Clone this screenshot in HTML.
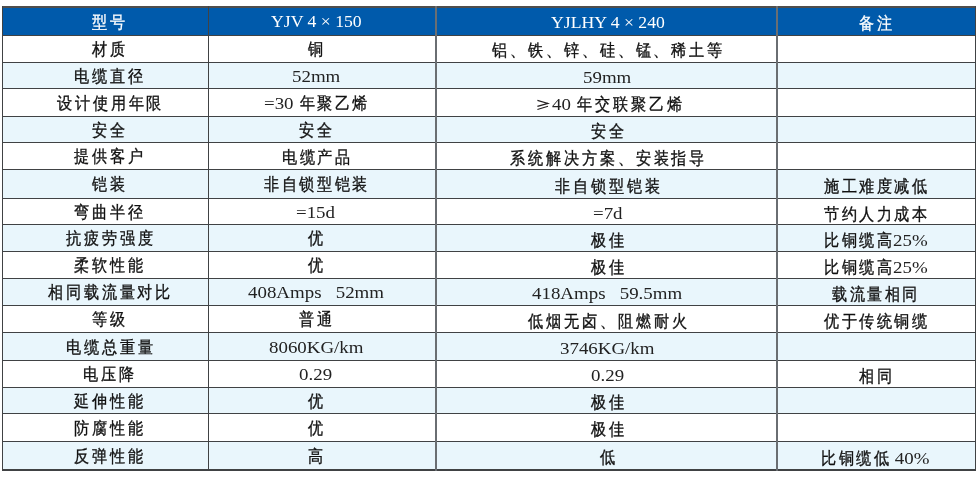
<!DOCTYPE html>
<html><head><meta charset="utf-8"><style>
html,body{margin:0;padding:0;}
body{width:976px;height:479px;overflow:hidden;background:#fff;position:relative;font-family:"Liberation Sans",sans-serif;}
.bx{position:absolute;}
.t{position:absolute;white-space:nowrap;will-change:transform;color:#111111;font-size:16.5px;}
.h{color:#fff;}
.h .l{color:#fff;}
.cw{display:inline-block;width:17.6px;text-align:center;}
.c{display:inline-block;font-family:"Liberation Sans",sans-serif;font-size:16.5px;transform:scaleX(0.89);}
.c{-webkit-text-stroke:0.34px #111111;}
.h .c{-webkit-text-stroke:0.3px #fff;}
.lw{display:inline-block;white-space:pre;}
.l{display:inline-block;color:#222222;font-family:"Liberation Serif",serif;font-size:17.5px;transform:scaleX(1.08);transform-origin:0 0;white-space:pre;position:relative;top:-0.3px;}
</style></head><body>
<div class="bx" style="left:2px;top:8px;width:973px;height:27px;background:#005aab"></div>
<div class="bx" style="left:2px;top:62px;width:973px;height:26px;background:#e9f6fc"></div>
<div class="bx" style="left:2px;top:116px;width:973px;height:26px;background:#e9f6fc"></div>
<div class="bx" style="left:2px;top:169px;width:973px;height:29px;background:#e9f6fc"></div>
<div class="bx" style="left:2px;top:224px;width:973px;height:27px;background:#e9f6fc"></div>
<div class="bx" style="left:2px;top:278px;width:973px;height:27px;background:#e9f6fc"></div>
<div class="bx" style="left:2px;top:332px;width:973px;height:28px;background:#e9f6fc"></div>
<div class="bx" style="left:2px;top:387px;width:973px;height:26px;background:#e9f6fc"></div>
<div class="bx" style="left:2px;top:441px;width:973px;height:28px;background:#e9f6fc"></div>
<div class="bx" style="left:2px;top:6px;width:974px;height:2px;background:#504e4c"></div>
<div class="bx" style="left:2px;top:469px;width:974px;height:2px;background:#404244"></div>
<div class="bx" style="left:2px;top:35px;width:974px;height:1px;background:#404244"></div>
<div class="bx" style="left:2px;top:62px;width:974px;height:1px;background:#404244"></div>
<div class="bx" style="left:2px;top:88px;width:974px;height:1px;background:#404244"></div>
<div class="bx" style="left:2px;top:116px;width:974px;height:1px;background:#404244"></div>
<div class="bx" style="left:2px;top:142px;width:974px;height:1px;background:#404244"></div>
<div class="bx" style="left:2px;top:169px;width:974px;height:1px;background:#404244"></div>
<div class="bx" style="left:2px;top:198px;width:974px;height:1px;background:#404244"></div>
<div class="bx" style="left:2px;top:224px;width:974px;height:1px;background:#404244"></div>
<div class="bx" style="left:2px;top:251px;width:974px;height:1px;background:#404244"></div>
<div class="bx" style="left:2px;top:278px;width:974px;height:1px;background:#404244"></div>
<div class="bx" style="left:2px;top:305px;width:974px;height:1px;background:#404244"></div>
<div class="bx" style="left:2px;top:332px;width:974px;height:1px;background:#404244"></div>
<div class="bx" style="left:2px;top:360px;width:974px;height:1px;background:#404244"></div>
<div class="bx" style="left:2px;top:387px;width:974px;height:1px;background:#404244"></div>
<div class="bx" style="left:2px;top:413px;width:974px;height:1px;background:#404244"></div>
<div class="bx" style="left:2px;top:441px;width:974px;height:1px;background:#404244"></div>
<div class="bx" style="left:2px;top:6px;width:1px;height:465px;background:#404244"></div>
<div class="bx" style="left:975px;top:6px;width:1px;height:465px;background:#404244"></div>
<div class="bx" style="left:208px;top:6px;width:1px;height:465px;background:#404244"></div>
<div class="bx" style="left:435px;top:6px;width:2px;height:465px;background:#6a6e72"></div>
<div class="bx" style="left:776px;top:6px;width:2px;height:465px;background:#6a6e72"></div>
<svg class="bx" style="left:536px;top:99px" width="14" height="13" viewBox="0 0 14 13"><path d="M1.4 1.4 L12 4.4 L1.4 7.4 M12 7.2 L1.4 10.6" fill="none" stroke="#231f20" stroke-width="1.1"/></svg>
<div class="t h" style="left:91.20px;top:8.6px;height:27px;line-height:27px"><span class="cw" style="width:17.8px"><span class="c">型</span></span><span class="cw" style="width:17.8px"><span class="c">号</span></span></div>
<div class="t h" style="left:270.67px;top:8.2px;height:27px;line-height:27px"><span class="lw" style="width:90.66px"><span class="l" style="transform:scaleX(1.01)">YJV 4 × 150</span></span></div>
<div class="t h" style="left:550.55px;top:9.0px;height:27px;line-height:27px"><span class="lw" style="width:113.89px"><span class="l" style="transform:scaleX(1.01)">YJLHY 4 × 240</span></span></div>
<div class="t h" style="left:857.50px;top:10px;height:27px;line-height:27px"><span class="cw" style="width:17.5px"><span class="c">备</span></span><span class="cw" style="width:17.5px"><span class="c">注</span></span></div>
<div class="t" style="left:91.20px;top:36px;height:27px;line-height:27px"><span class="cw" style="width:17.8px"><span class="c">材</span></span><span class="cw" style="width:17.8px"><span class="c">质</span></span></div>
<div class="t" style="left:307.20px;top:35.7px;height:27px;line-height:27px"><span class="cw" style="width:17.6px"><span class="c">铜</span></span></div>
<div class="t" style="left:491.15px;top:36.8px;height:27px;line-height:27px"><span class="cw" style="width:17.9px"><span class="c">铝</span></span><span class="cw" style="width:17.9px"><span class="c">、</span></span><span class="cw" style="width:17.9px"><span class="c">铁</span></span><span class="cw" style="width:17.9px"><span class="c">、</span></span><span class="cw" style="width:17.9px"><span class="c">锌</span></span><span class="cw" style="width:17.9px"><span class="c">、</span></span><span class="cw" style="width:17.9px"><span class="c">硅</span></span><span class="cw" style="width:17.9px"><span class="c">、</span></span><span class="cw" style="width:17.9px"><span class="c">锰</span></span><span class="cw" style="width:17.9px"><span class="c">、</span></span><span class="cw" style="width:17.9px"><span class="c">稀</span></span><span class="cw" style="width:17.9px"><span class="c">土</span></span><span class="cw" style="width:17.9px"><span class="c">等</span></span></div>
<div class="t" style="left:73.40px;top:63px;height:26px;line-height:26px"><span class="cw" style="width:17.8px"><span class="c">电</span></span><span class="cw" style="width:17.8px"><span class="c">缆</span></span><span class="cw" style="width:17.8px"><span class="c">直</span></span><span class="cw" style="width:17.8px"><span class="c">径</span></span></div>
<div class="t" style="left:291.84px;top:62.7px;height:26px;line-height:26px"><span class="lw" style="width:48.31px"><span class="l" style="transform:scaleX(1.08)">52mm</span></span></div>
<div class="t" style="left:583.34px;top:63.8px;height:26px;line-height:26px"><span class="lw" style="width:48.31px"><span class="l" style="transform:scaleX(1.08)">59mm</span></span></div>
<div class="t" style="left:55.60px;top:89px;height:28px;line-height:28px"><span class="cw" style="width:17.8px"><span class="c">设</span></span><span class="cw" style="width:17.8px"><span class="c">计</span></span><span class="cw" style="width:17.8px"><span class="c">使</span></span><span class="cw" style="width:17.8px"><span class="c">用</span></span><span class="cw" style="width:17.8px"><span class="c">年</span></span><span class="cw" style="width:17.8px"><span class="c">限</span></span></div>
<div class="t" style="left:263.65px;top:88.7px;height:28px;line-height:28px"><span class="lw" style="width:34.29px"><span class="l" style="transform:scaleX(1.08)">=30 </span></span><span class="cw" style="width:17.6px"><span class="c">年</span></span><span class="cw" style="width:17.6px"><span class="c">聚</span></span><span class="cw" style="width:17.6px"><span class="c">乙</span></span><span class="cw" style="width:17.6px"><span class="c">烯</span></span></div>
<div class="t" style="left:552.00px;top:89.8px;height:28px;line-height:28px"><span class="lw" style="width:23.62px"><span class="l" style="transform:scaleX(1.08)">40 </span></span><span class="cw" style="width:17.9px"><span class="c">年</span></span><span class="cw" style="width:17.9px"><span class="c">交</span></span><span class="cw" style="width:17.9px"><span class="c">联</span></span><span class="cw" style="width:17.9px"><span class="c">聚</span></span><span class="cw" style="width:17.9px"><span class="c">乙</span></span><span class="cw" style="width:17.9px"><span class="c">烯</span></span></div>
<div class="t" style="left:91.20px;top:117px;height:26px;line-height:26px"><span class="cw" style="width:17.8px"><span class="c">安</span></span><span class="cw" style="width:17.8px"><span class="c">全</span></span></div>
<div class="t" style="left:298.40px;top:116.7px;height:26px;line-height:26px"><span class="cw" style="width:17.6px"><span class="c">安</span></span><span class="cw" style="width:17.6px"><span class="c">全</span></span></div>
<div class="t" style="left:589.60px;top:117.8px;height:26px;line-height:26px"><span class="cw" style="width:17.9px"><span class="c">安</span></span><span class="cw" style="width:17.9px"><span class="c">全</span></span></div>
<div class="t" style="left:73.40px;top:143px;height:27px;line-height:27px"><span class="cw" style="width:17.8px"><span class="c">提</span></span><span class="cw" style="width:17.8px"><span class="c">供</span></span><span class="cw" style="width:17.8px"><span class="c">客</span></span><span class="cw" style="width:17.8px"><span class="c">户</span></span></div>
<div class="t" style="left:280.80px;top:143.7px;height:27px;line-height:27px"><span class="cw" style="width:17.6px"><span class="c">电</span></span><span class="cw" style="width:17.6px"><span class="c">缆</span></span><span class="cw" style="width:17.6px"><span class="c">产</span></span><span class="cw" style="width:17.6px"><span class="c">品</span></span></div>
<div class="t" style="left:509.05px;top:145.3px;height:27px;line-height:27px"><span class="cw" style="width:17.9px"><span class="c">系</span></span><span class="cw" style="width:17.9px"><span class="c">统</span></span><span class="cw" style="width:17.9px"><span class="c">解</span></span><span class="cw" style="width:17.9px"><span class="c">决</span></span><span class="cw" style="width:17.9px"><span class="c">方</span></span><span class="cw" style="width:17.9px"><span class="c">案</span></span><span class="cw" style="width:17.9px"><span class="c">、</span></span><span class="cw" style="width:17.9px"><span class="c">安</span></span><span class="cw" style="width:17.9px"><span class="c">装</span></span><span class="cw" style="width:17.9px"><span class="c">指</span></span><span class="cw" style="width:17.9px"><span class="c">导</span></span></div>
<div class="t" style="left:91.20px;top:170px;height:29px;line-height:29px"><span class="cw" style="width:17.8px"><span class="c">铠</span></span><span class="cw" style="width:17.8px"><span class="c">装</span></span></div>
<div class="t" style="left:263.20px;top:169.7px;height:29px;line-height:29px"><span class="cw" style="width:17.6px"><span class="c">非</span></span><span class="cw" style="width:17.6px"><span class="c">自</span></span><span class="cw" style="width:17.6px"><span class="c">锁</span></span><span class="cw" style="width:17.6px"><span class="c">型</span></span><span class="cw" style="width:17.6px"><span class="c">铠</span></span><span class="cw" style="width:17.6px"><span class="c">装</span></span></div>
<div class="t" style="left:553.80px;top:172.3px;height:29px;line-height:29px"><span class="cw" style="width:17.9px"><span class="c">非</span></span><span class="cw" style="width:17.9px"><span class="c">自</span></span><span class="cw" style="width:17.9px"><span class="c">锁</span></span><span class="cw" style="width:17.9px"><span class="c">型</span></span><span class="cw" style="width:17.9px"><span class="c">铠</span></span><span class="cw" style="width:17.9px"><span class="c">装</span></span></div>
<div class="t" style="left:822.50px;top:171.5px;height:29px;line-height:29px"><span class="cw" style="width:17.5px"><span class="c">施</span></span><span class="cw" style="width:17.5px"><span class="c">工</span></span><span class="cw" style="width:17.5px"><span class="c">难</span></span><span class="cw" style="width:17.5px"><span class="c">度</span></span><span class="cw" style="width:17.5px"><span class="c">减</span></span><span class="cw" style="width:17.5px"><span class="c">低</span></span></div>
<div class="t" style="left:73.40px;top:199px;height:26px;line-height:26px"><span class="cw" style="width:17.8px"><span class="c">弯</span></span><span class="cw" style="width:17.8px"><span class="c">曲</span></span><span class="cw" style="width:17.8px"><span class="c">半</span></span><span class="cw" style="width:17.8px"><span class="c">径</span></span></div>
<div class="t" style="left:296.49px;top:198.7px;height:26px;line-height:26px"><span class="lw" style="width:39.02px"><span class="l" style="transform:scaleX(1.08)">=15d</span></span></div>
<div class="t" style="left:592.72px;top:199.8px;height:26px;line-height:26px"><span class="lw" style="width:29.57px"><span class="l" style="transform:scaleX(1.08)">=7d</span></span></div>
<div class="t" style="left:822.50px;top:200.5px;height:26px;line-height:26px"><span class="cw" style="width:17.5px"><span class="c">节</span></span><span class="cw" style="width:17.5px"><span class="c">约</span></span><span class="cw" style="width:17.5px"><span class="c">人</span></span><span class="cw" style="width:17.5px"><span class="c">力</span></span><span class="cw" style="width:17.5px"><span class="c">成</span></span><span class="cw" style="width:17.5px"><span class="c">本</span></span></div>
<div class="t" style="left:64.50px;top:225px;height:27px;line-height:27px"><span class="cw" style="width:17.8px"><span class="c">抗</span></span><span class="cw" style="width:17.8px"><span class="c">疲</span></span><span class="cw" style="width:17.8px"><span class="c">劳</span></span><span class="cw" style="width:17.8px"><span class="c">强</span></span><span class="cw" style="width:17.8px"><span class="c">度</span></span></div>
<div class="t" style="left:307.20px;top:225.2px;height:27px;line-height:27px"><span class="cw" style="width:17.6px"><span class="c">优</span></span></div>
<div class="t" style="left:589.60px;top:227.3px;height:27px;line-height:27px"><span class="cw" style="width:17.9px"><span class="c">极</span></span><span class="cw" style="width:17.9px"><span class="c">佳</span></span></div>
<div class="t" style="left:822.68px;top:226.5px;height:27px;line-height:27px"><span class="cw" style="width:17.5px"><span class="c">比</span></span><span class="cw" style="width:17.5px"><span class="c">铜</span></span><span class="cw" style="width:17.5px"><span class="c">缆</span></span><span class="cw" style="width:17.5px"><span class="c">高</span></span><span class="lw" style="width:34.64px"><span class="l" style="transform:scaleX(1.08)">25%</span></span></div>
<div class="t" style="left:73.40px;top:252px;height:27px;line-height:27px"><span class="cw" style="width:17.8px"><span class="c">柔</span></span><span class="cw" style="width:17.8px"><span class="c">软</span></span><span class="cw" style="width:17.8px"><span class="c">性</span></span><span class="cw" style="width:17.8px"><span class="c">能</span></span></div>
<div class="t" style="left:307.20px;top:251.7px;height:27px;line-height:27px"><span class="cw" style="width:17.6px"><span class="c">优</span></span></div>
<div class="t" style="left:589.60px;top:254.3px;height:27px;line-height:27px"><span class="cw" style="width:17.9px"><span class="c">极</span></span><span class="cw" style="width:17.9px"><span class="c">佳</span></span></div>
<div class="t" style="left:822.68px;top:253.5px;height:27px;line-height:27px"><span class="cw" style="width:17.5px"><span class="c">比</span></span><span class="cw" style="width:17.5px"><span class="c">铜</span></span><span class="cw" style="width:17.5px"><span class="c">缆</span></span><span class="cw" style="width:17.5px"><span class="c">高</span></span><span class="lw" style="width:34.64px"><span class="l" style="transform:scaleX(1.08)">25%</span></span></div>
<div class="t" style="left:46.70px;top:279px;height:27px;line-height:27px"><span class="cw" style="width:17.8px"><span class="c">相</span></span><span class="cw" style="width:17.8px"><span class="c">同</span></span><span class="cw" style="width:17.8px"><span class="c">载</span></span><span class="cw" style="width:17.8px"><span class="c">流</span></span><span class="cw" style="width:17.8px"><span class="c">量</span></span><span class="cw" style="width:17.8px"><span class="c">对</span></span><span class="cw" style="width:17.8px"><span class="c">比</span></span></div>
<div class="t" style="left:248.00px;top:278.7px;height:27px;line-height:27px"><span class="lw" style="width:136.00px"><span class="l" style="transform:scaleX(1.08)">408Amps   52mm</span></span></div>
<div class="t" style="left:532.41px;top:280.3px;height:27px;line-height:27px"><span class="lw" style="width:150.17px"><span class="l" style="transform:scaleX(1.08)">418Amps   59.5mm</span></span></div>
<div class="t" style="left:831.25px;top:280.5px;height:27px;line-height:27px"><span class="cw" style="width:17.5px"><span class="c">载</span></span><span class="cw" style="width:17.5px"><span class="c">流</span></span><span class="cw" style="width:17.5px"><span class="c">量</span></span><span class="cw" style="width:17.5px"><span class="c">相</span></span><span class="cw" style="width:17.5px"><span class="c">同</span></span></div>
<div class="t" style="left:91.20px;top:306px;height:27px;line-height:27px"><span class="cw" style="width:17.8px"><span class="c">等</span></span><span class="cw" style="width:17.8px"><span class="c">级</span></span></div>
<div class="t" style="left:298.40px;top:305.7px;height:27px;line-height:27px"><span class="cw" style="width:17.6px"><span class="c">普</span></span><span class="cw" style="width:17.6px"><span class="c">通</span></span></div>
<div class="t" style="left:526.95px;top:307.8px;height:27px;line-height:27px"><span class="cw" style="width:17.9px"><span class="c">低</span></span><span class="cw" style="width:17.9px"><span class="c">烟</span></span><span class="cw" style="width:17.9px"><span class="c">无</span></span><span class="cw" style="width:17.9px"><span class="c">卤</span></span><span class="cw" style="width:17.9px"><span class="c">、</span></span><span class="cw" style="width:17.9px"><span class="c">阻</span></span><span class="cw" style="width:17.9px"><span class="c">燃</span></span><span class="cw" style="width:17.9px"><span class="c">耐</span></span><span class="cw" style="width:17.9px"><span class="c">火</span></span></div>
<div class="t" style="left:822.50px;top:307.5px;height:27px;line-height:27px"><span class="cw" style="width:17.5px"><span class="c">优</span></span><span class="cw" style="width:17.5px"><span class="c">于</span></span><span class="cw" style="width:17.5px"><span class="c">传</span></span><span class="cw" style="width:17.5px"><span class="c">统</span></span><span class="cw" style="width:17.5px"><span class="c">铜</span></span><span class="cw" style="width:17.5px"><span class="c">缆</span></span></div>
<div class="t" style="left:64.50px;top:333px;height:28px;line-height:28px"><span class="cw" style="width:17.8px"><span class="c">电</span></span><span class="cw" style="width:17.8px"><span class="c">缆</span></span><span class="cw" style="width:17.8px"><span class="c">总</span></span><span class="cw" style="width:17.8px"><span class="c">重</span></span><span class="cw" style="width:17.8px"><span class="c">量</span></span></div>
<div class="t" style="left:268.75px;top:332.7px;height:28px;line-height:28px"><span class="lw" style="width:94.50px"><span class="l" style="transform:scaleX(1.08)">8060KG/km</span></span></div>
<div class="t" style="left:560.25px;top:333.8px;height:28px;line-height:28px"><span class="lw" style="width:94.50px"><span class="l" style="transform:scaleX(1.08)">3746KG/km</span></span></div>
<div class="t" style="left:82.30px;top:361px;height:27px;line-height:27px"><span class="cw" style="width:17.8px"><span class="c">电</span></span><span class="cw" style="width:17.8px"><span class="c">压</span></span><span class="cw" style="width:17.8px"><span class="c">降</span></span></div>
<div class="t" style="left:299.46px;top:360.7px;height:27px;line-height:27px"><span class="lw" style="width:33.08px"><span class="l" style="transform:scaleX(1.08)">0.29</span></span></div>
<div class="t" style="left:590.96px;top:361.8px;height:27px;line-height:27px"><span class="lw" style="width:33.08px"><span class="l" style="transform:scaleX(1.08)">0.29</span></span></div>
<div class="t" style="left:857.50px;top:362.5px;height:27px;line-height:27px"><span class="cw" style="width:17.5px"><span class="c">相</span></span><span class="cw" style="width:17.5px"><span class="c">同</span></span></div>
<div class="t" style="left:73.40px;top:388px;height:26px;line-height:26px"><span class="cw" style="width:17.8px"><span class="c">延</span></span><span class="cw" style="width:17.8px"><span class="c">伸</span></span><span class="cw" style="width:17.8px"><span class="c">性</span></span><span class="cw" style="width:17.8px"><span class="c">能</span></span></div>
<div class="t" style="left:307.20px;top:387.7px;height:26px;line-height:26px"><span class="cw" style="width:17.6px"><span class="c">优</span></span></div>
<div class="t" style="left:589.60px;top:388.8px;height:26px;line-height:26px"><span class="cw" style="width:17.9px"><span class="c">极</span></span><span class="cw" style="width:17.9px"><span class="c">佳</span></span></div>
<div class="t" style="left:73.40px;top:414px;height:28px;line-height:28px"><span class="cw" style="width:17.8px"><span class="c">防</span></span><span class="cw" style="width:17.8px"><span class="c">腐</span></span><span class="cw" style="width:17.8px"><span class="c">性</span></span><span class="cw" style="width:17.8px"><span class="c">能</span></span></div>
<div class="t" style="left:307.20px;top:413.7px;height:28px;line-height:28px"><span class="cw" style="width:17.6px"><span class="c">优</span></span></div>
<div class="t" style="left:589.60px;top:414.8px;height:28px;line-height:28px"><span class="cw" style="width:17.9px"><span class="c">极</span></span><span class="cw" style="width:17.9px"><span class="c">佳</span></span></div>
<div class="t" style="left:73.40px;top:442px;height:28px;line-height:28px"><span class="cw" style="width:17.8px"><span class="c">反</span></span><span class="cw" style="width:17.8px"><span class="c">弹</span></span><span class="cw" style="width:17.8px"><span class="c">性</span></span><span class="cw" style="width:17.8px"><span class="c">能</span></span></div>
<div class="t" style="left:307.20px;top:441.7px;height:28px;line-height:28px"><span class="cw" style="width:17.6px"><span class="c">高</span></span></div>
<div class="t" style="left:598.55px;top:442.8px;height:28px;line-height:28px"><span class="cw" style="width:17.9px"><span class="c">低</span></span></div>
<div class="t" style="left:820.32px;top:443.5px;height:28px;line-height:28px"><span class="cw" style="width:17.5px"><span class="c">比</span></span><span class="cw" style="width:17.5px"><span class="c">铜</span></span><span class="cw" style="width:17.5px"><span class="c">缆</span></span><span class="cw" style="width:17.5px"><span class="c">低</span></span><span class="lw" style="width:39.37px"><span class="l" style="transform:scaleX(1.08)"> 40%</span></span></div>
</body></html>
